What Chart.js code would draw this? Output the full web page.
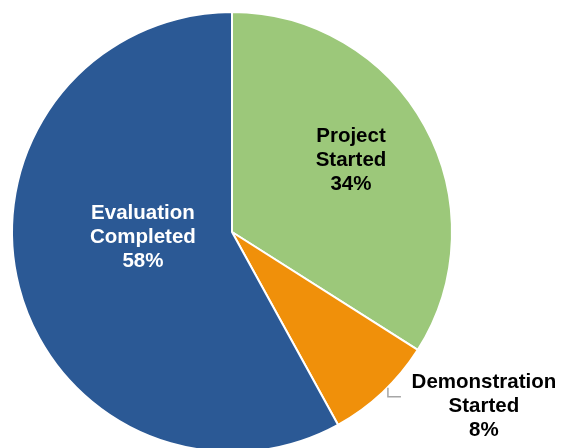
<!DOCTYPE html>
<html>
<head>
<meta charset="utf-8">
<title>Project status</title>
<script src="https://cdn.jsdelivr.net/npm/chart.js@4.4.1/dist/chart.umd.min.js"></script>
<style>
  html, body { margin: 0; padding: 0; background: #fff; overflow: hidden; }
  #wrap { position: absolute; left: 0; top: 0; width: 561px; height: 460px; }
</style>
</head>
<body>
<div id="wrap"><canvas id="statusPie" width="561" height="460"></canvas></div>
<script>
// slice order runs clockwise from 12 o'clock
var categories = ['Project Started', 'Demonstration Started', 'Evaluation Completed'];
var shares = [34, 8, 58];
var sliceColors = ['#9cc87a', '#f0900a', '#2b5995'];
var labelColors = ['#000000', '#000000', '#ffffff'];

// where each label sits: fraction of the radius along the slice's middle angle, plus a nudge
var labelPlacement = [
    { inside: true, f: 0.62, dx: 0, dy: -6 },
    { inside: false, f: 1.0, dx: 102, dy: 15 },
    { inside: true, f: 0.42, dx: 0, dy: -18 }
];

var sliceLabels = {
    id: 'sliceLabels',
    afterDatasetsDraw: function (chart) {
        var ctx = chart.ctx;
        var meta = chart.getDatasetMeta(0);
        ctx.save();
        ctx.font = 'bold 20.5px "Liberation Sans", Arial, sans-serif';
        ctx.textAlign = 'center';
        ctx.textBaseline = 'middle';
        meta.data.forEach(function (arc, i) {
            var p = arc.getProps(['x', 'y', 'startAngle', 'endAngle', 'outerRadius'], true);
            var mid = (p.startAngle + p.endAngle) / 2;
            var pl = labelPlacement[i];
            var ax = p.x + Math.cos(mid) * (p.outerRadius - 1) * pl.f;
            var ay = p.y + Math.sin(mid) * (p.outerRadius - 1) * pl.f;
            if (!pl.inside) {
                // small elbow connector next to the slice
                ctx.strokeStyle = '#a6a6a6';
                ctx.lineWidth = 1.5;
                ctx.beginPath();
                ctx.moveTo(ax + 6, ay - 4);
                ctx.lineTo(ax + 6, ay + 5);
                ctx.lineTo(ax + 19, ay + 5);
                ctx.stroke();
            }
            var cx = ax + pl.dx;
            var cy = ay + pl.dy;
            var words = categories[i].split(' ');
            var lines = words.concat([shares[i] + '%']);
            var lh = 24;
            ctx.fillStyle = labelColors[i];
            lines.forEach(function (t, k) {
                ctx.fillText(t, cx, cy + (k - (lines.length - 1) / 2) * lh);
            });
        });
        ctx.restore();
    }
};

new Chart(document.getElementById('statusPie'), {
    type: 'pie',
    data: {
        labels: categories,
        datasets: [{
            data: shares,
            backgroundColor: sliceColors,
            borderColor: '#ffffff',
            borderWidth: 2
        }]
    },
    options: {
        responsive: false,
        animation: false,
        devicePixelRatio: 1,
        layout: { padding: { left: 11, top: 11, right: 108, bottom: 7 } },
        plugins: {
            legend: { display: false },
            tooltip: { enabled: false }
        }
    },
    plugins: [sliceLabels]
});
</script>
</body>
</html>
